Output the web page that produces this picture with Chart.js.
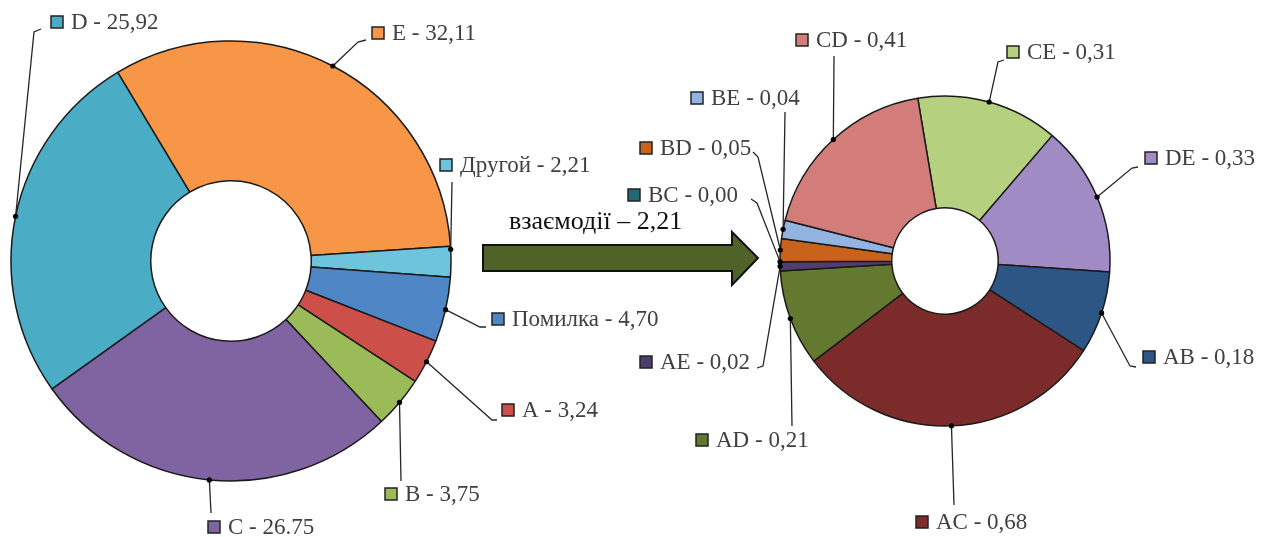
<!DOCTYPE html>
<html>
<head>
<meta charset="utf-8">
<script src="https://cdn.jsdelivr.net/npm/chart.js@4/dist/chart.umd.min.js"></script>
<style>
  html, body { margin: 0; padding: 0; background: #fff; overflow: hidden; }
  #wrap { position: relative; width: 1263px; height: 537px; font-family: "Liberation Serif", serif; }
  #wrap canvas { position: absolute; left: 0; top: 0; }
</style>
</head>
<body>
<div id="wrap">
  <canvas id="mainChart" width="1263" height="537"></canvas>
  <canvas id="interChart" width="1263" height="537"></canvas>
</div>
<script>
// Factor shares (main doughnut), clockwise from the top-left
const mainFactors = ['E', 'Другой', 'Помилка', 'A', 'B', 'C', 'D'];
const mainShares  = [32.11, 2.21, 4.70, 3.24, 3.75, 26.75, 25.92];
const mainLabels  = ['E - 32,11', 'Другой - 2,21', 'Помилка - 4,70', 'A - 3,24', 'B - 3,75', 'C - 26.75', 'D - 25,92'];
const mainColors  = ['#F79646', '#6EC4DC', '#4F86C6', '#CC4F4A', '#9BBB59', '#8064A2', '#4BACC6'];

// Pairwise interactions (second doughnut), clockwise from the top
const interFactors = ['CE', 'DE', 'AB', 'AC', 'AD', 'AE', 'BC', 'BD', 'BE', 'CD'];
const interShares  = [0.31, 0.33, 0.18, 0.68, 0.21, 0.02, 0.00, 0.05, 0.04, 0.41];
const interLabels  = ['CE - 0,31', 'DE - 0,33', 'AB - 0,18', 'AC - 0,68', 'AD - 0,21', 'AE - 0,02', 'BC - 0,00', 'BD - 0,05', 'BE - 0,04', 'CD - 0,41'];
const interColors  = ['#B5D17F', '#A08BC4', '#2D5685', '#7B2C2A', '#62792F', '#4F3F6E', '#1F6A73', '#C9631C', '#93B4E0', '#D37D7A'];

const arrowCaption = 'взаємодії – 2,21';

// Callout placement: legend box centre and the leader path ending near it
const mainCallouts = [
  { box: [378, 33],  path: [[358, 42], [366, 40]] },
  { box: [446, 165], path: [[452, 182]], at: 0.1 },
  { box: [498, 319], path: [[480, 327], [486, 327]] },
  { box: [508, 410], path: [[492, 420], [497, 420]] },
  { box: [391, 494], path: [[401, 481]] },
  { box: [214, 527], path: [[211, 513]] },
  { box: [57, 22],   path: [[34, 32], [41, 29]] }
];
const interCallouts = [
  { box: [1013, 52],  path: [[998, 62], [1004, 60]] },
  { box: [1151, 158], path: [[1132, 168], [1138, 167]] },
  { box: [1149, 357], path: [[1130, 366], [1136, 367]] },
  { box: [922, 522],  path: [[954, 505]] },
  { box: [702, 440],  path: [[792, 426]] },
  { box: [646, 362],  path: [[763, 366], [757, 368]] },
  { box: [634, 195],  path: [[757, 203], [751, 199]] },
  { box: [646, 148],  path: [[758, 157], [753, 152]] },
  { box: [697, 98],   path: [[785, 112]] },
  { box: [802, 40],   path: [[834, 56]] }
];

const LABEL_FONT = '23px "Liberation Serif"';
const CAPTION_FONT = '26px "Liberation Serif"';

function makeCallouts(items, texts) {
  return {
    id: 'callouts',
    afterDatasetsDraw(chart) {
      const ctx = chart.ctx;
      const meta = chart.getDatasetMeta(0);
      const colors = chart.data.datasets[0].backgroundColor;
      items.forEach((it, i) => {
        const p = meta.data[i].getProps(['x', 'y', 'startAngle', 'endAngle', 'outerRadius'], true);
        const a = p.startAngle + (p.endAngle - p.startAngle) * (it.at ?? 0.5);
        const dx = p.x + Math.cos(a) * p.outerRadius;
        const dy = p.y + Math.sin(a) * p.outerRadius;
        ctx.save();
        ctx.strokeStyle = '#262626';
        ctx.lineWidth = 1.3;
        ctx.beginPath();
        ctx.moveTo(dx, dy);
        it.path.forEach(([x, y]) => ctx.lineTo(x, y));
        ctx.stroke();
        ctx.fillStyle = '#000';
        ctx.beginPath();
        ctx.arc(dx, dy, 2.6, 0, Math.PI * 2);
        ctx.fill();
        const [mx, my] = it.box;
        ctx.fillStyle = colors[i];
        ctx.fillRect(mx - 6, my - 6, 12, 12);
        ctx.strokeStyle = '#222';
        ctx.lineWidth = 1.5;
        ctx.strokeRect(mx - 6, my - 6, 12, 12);
        ctx.font = LABEL_FONT;
        ctx.fillStyle = '#404040';
        ctx.textAlign = 'left';
        ctx.textBaseline = 'middle';
        ctx.fillText(texts[i], mx + 14, my + 1);
        ctx.restore();
      });
    }
  };
}

// Connecting arrow between the two doughnuts
const arrowPlugin = {
  id: 'arrow',
  afterDraw(chart) {
    const ctx = chart.ctx;
    ctx.save();
    ctx.beginPath();
    ctx.moveTo(483, 245);
    ctx.lineTo(732, 245);
    ctx.lineTo(732, 232);
    ctx.lineTo(758, 258);
    ctx.lineTo(732, 285);
    ctx.lineTo(732, 271);
    ctx.lineTo(483, 271);
    ctx.closePath();
    ctx.fillStyle = '#4F6228';
    ctx.fill();
    ctx.strokeStyle = '#111';
    ctx.lineWidth = 2;
    ctx.stroke();
    ctx.font = CAPTION_FONT;
    ctx.fillStyle = '#111';
    ctx.textBaseline = 'alphabetic';
    ctx.fillText(arrowCaption, 509, 229);
    ctx.restore();
  }
};

function doughnutConfig(labels, values, colors, opts, plugins) {
  return {
    type: 'doughnut',
    data: {
      labels: labels,
      datasets: [{
        data: values,
        backgroundColor: colors,
        borderColor: '#1a1a1a',
        borderWidth: 1.5
      }]
    },
    options: {
      responsive: false,
      animation: false,
      events: [],
      radius: opts.radius,
      cutout: opts.cutout,
      rotation: opts.rotation,
      layout: { padding: opts.padding },
      plugins: { legend: { display: false }, tooltip: { enabled: false } }
    },
    plugins: plugins
  };
}

function build() {
  new Chart(document.getElementById('mainChart'), doughnutConfig(
    mainFactors, mainShares, mainColors,
    { radius: 220, cutout: 84, rotation: -31, padding: { left: 0, right: 801, top: 0, bottom: 15 } },
    [makeCallouts(mainCallouts, mainLabels), arrowPlugin]
  ));

  new Chart(document.getElementById('interChart'), doughnutConfig(
    interFactors, interShares, interColors,
    { radius: 165, cutout: 84, rotation: -9.5, padding: { left: 627, right: 0, top: 0, bottom: 15 } },
    [makeCallouts(interCallouts, interLabels)]
  ));
}

// Make sure the serif face is ready before the canvases paint text
Promise.all([
  document.fonts.load(LABEL_FONT, 'Другой Помилка 0123'),
  document.fonts.load(CAPTION_FONT, arrowCaption)
]).then(build, build);
</script>
</body>
</html>
